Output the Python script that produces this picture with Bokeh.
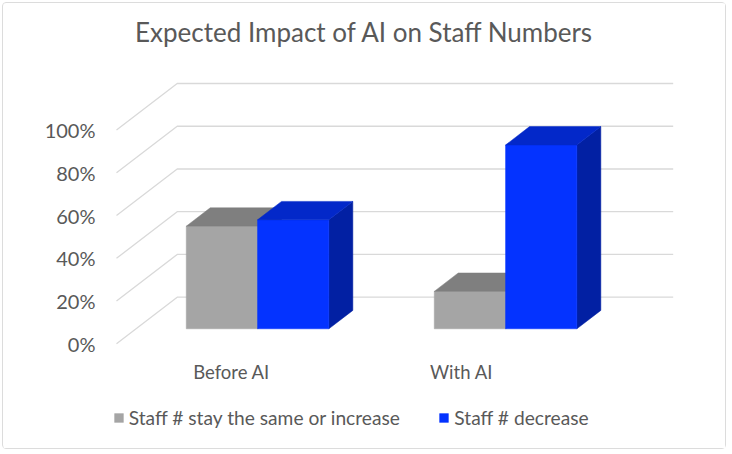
from bokeh.plotting import figure
from bokeh.models import Range1d, ColumnDataSource, Legend, LegendItem, FixedTicker, PrintfTickFormatter
from bokeh.core.properties import value
from bokeh.embed import file_html
from bokeh.resources import INLINE

# ---------------- data ----------------
categories = ["Before AI", "With AI"]
series_names = ["Staff # stay the same or increase", "Staff # decrease"]
stay_or_increase = [48, 17.5]
decrease = [51, 86]
y_ticks = [0, 20, 40, 60, 80, 100]
title_text = "Expected Impact of AI on Staff Numbers"

# ---------------- layout (pixels / styles) ----------------
W, H = 724, 447
LEFT = 106
PX_CAT = 248.0          # pixels per category (front plane)
PX_PCT = 2.137          # pixels per percent
ORIGIN_X = 113.0        # canvas x of data x=0 (front floor edge)
ORIGIN_Y = 340.3        # canvas y (from top) of data y=0 (front floor edge)
DX = 60.7 / PX_CAT      # depth shift in x (category units) for full depth
DY = 46.6 / PX_PCT      # depth shift in y (percent units) for full depth
D0, D1 = 0.322, 0.717   # bar front / back depth
BAR_CENTER = 0.49
BAR_W = 0.2875
LABEL_X0, LABEL_STEP, LABEL_Y = 0.4637, 0.9274, -13.3
TITLE_Y = 145.9
FONT = "Lato"
TEXT_COLOR = "#595959"
GRID_COLOR = "#D9D9D9"
GRAY = dict(front="#A5A5A5", top="#7F7F7F", side="#6F6F6F")
BLUE = dict(front="#0433FF", top="#0328C9", side="#0220A3")

x_start = (LEFT - ORIGIN_X) / PX_CAT
x_end = (W - ORIGIN_X) / PX_CAT
y_end = ORIGIN_Y / PX_PCT
y_start = (ORIGIN_Y - H) / PX_PCT

p = figure(width=W, height=H, output_backend="svg", toolbar_location=None,
           x_range=Range1d(x_start, x_end), y_range=Range1d(y_start, y_end),
           x_axis_location=None, min_border_left=LEFT, min_border_right=0,
           min_border_top=0, min_border_bottom=0)
p.outline_line_color = None
p.xgrid.visible = False
p.ygrid.visible = False
p.background_fill_color = "white"
p.border_fill_color = "white"
p.styles = {"border": "1px solid #DCDCDC", "border-radius": "4px",
            "margin-left": "2px", "margin-top": "2px"}

def proj(x, y, d):
    return x + d * DX, y + d * DY

# gridlines: left side wall diagonal + back wall horizontal
n_cat = len(categories)
gxs, gys = [], []
for t in y_ticks:
    pts = [proj(0, t, 0), proj(0, t, 1), proj(n_cat, t, 1)]
    gxs.append([q[0] for q in pts])
    gys.append([q[1] for q in pts])
p.multi_line(gxs, gys, line_color=GRID_COLOR, line_width=1.3)

def faces(values, offset_index):
    fr, tp, sd = ([], []), ([], []), ([], [])
    for i, v in enumerate(values):
        xl = i + BAR_CENTER + (offset_index - 1) * BAR_W
        xr = xl + BAR_W
        quads = {
            "front": [(xl, 0, D0), (xr, 0, D0), (xr, v, D0), (xl, v, D0)],
            "top": [(xl, v, D0), (xr, v, D0), (xr, v, D1), (xl, v, D1)],
            "side": [(xr, 0, D0), (xr, 0, D1), (xr, v, D1), (xr, v, D0)],
        }
        for key, store in (("front", fr), ("top", tp), ("side", sd)):
            pts = [proj(*q) for q in quads[key]]
            store[0].append([q[0] for q in pts])
            store[1].append([q[1] for q in pts])
    return fr, tp, sd

renderers = []
for idx, (vals, col) in enumerate(((stay_or_increase, GRAY), (decrease, BLUE))):
    fr, tp, sd = faces(vals, idx)
    r_side = p.patches(sd[0], sd[1], fill_color=col["side"], line_color=col["side"], line_width=0.5)
    r_front = p.patches(fr[0], fr[1], fill_color=col["front"], line_color=col["front"], line_width=0.5)
    r_top = p.patches(tp[0], tp[1], fill_color=col["top"], line_color=col["top"], line_width=0.5)
    renderers.append(r_front)

# y axis
p.yaxis.ticker = FixedTicker(ticks=y_ticks)
p.yaxis.formatter = PrintfTickFormatter(format="%d%%")
p.yaxis.axis_line_color = None
p.yaxis.major_tick_line_color = None
p.yaxis.minor_tick_line_color = None
p.yaxis.major_label_standoff = 8
p.yaxis.major_label_text_font = FONT
p.yaxis.major_label_text_font_size = "20px"
p.yaxis.major_label_text_color = TEXT_COLOR

# category labels
lab_src = ColumnDataSource(dict(
    x=[LABEL_X0 + i * LABEL_STEP for i in range(n_cat)],
    y=[LABEL_Y] * n_cat,
    text=categories))
p.text(x="x", y="y", text="text", source=lab_src, text_font=value(FONT),
       text_font_size="18.5px", text_color=TEXT_COLOR, text_align="center",
       text_baseline="middle")

# title
p.text(x=[n_cat / 2], y=[TITLE_Y], text=[title_text], text_font=value(FONT),
       text_font_size="26px", text_color=TEXT_COLOR, text_align="center",
       text_baseline="middle")

# legends
for r, name, loc in zip(renderers, series_names, [(3.7, 20.7), (329.3, 20.7)]):
    lg = Legend(items=[LegendItem(label=name, renderers=[r])], location=loc,
                orientation="horizontal", border_line_color=None,
                background_fill_alpha=0, padding=0, margin=0,
                glyph_width=11, glyph_height=11, label_standoff=5,
                label_height=20, label_text_font=FONT, label_text_font_size="19.2px",
                label_text_color=TEXT_COLOR, label_text_baseline="middle")
    p.add_layout(lg)

open("out.html", "w").write(file_html(p, INLINE))
